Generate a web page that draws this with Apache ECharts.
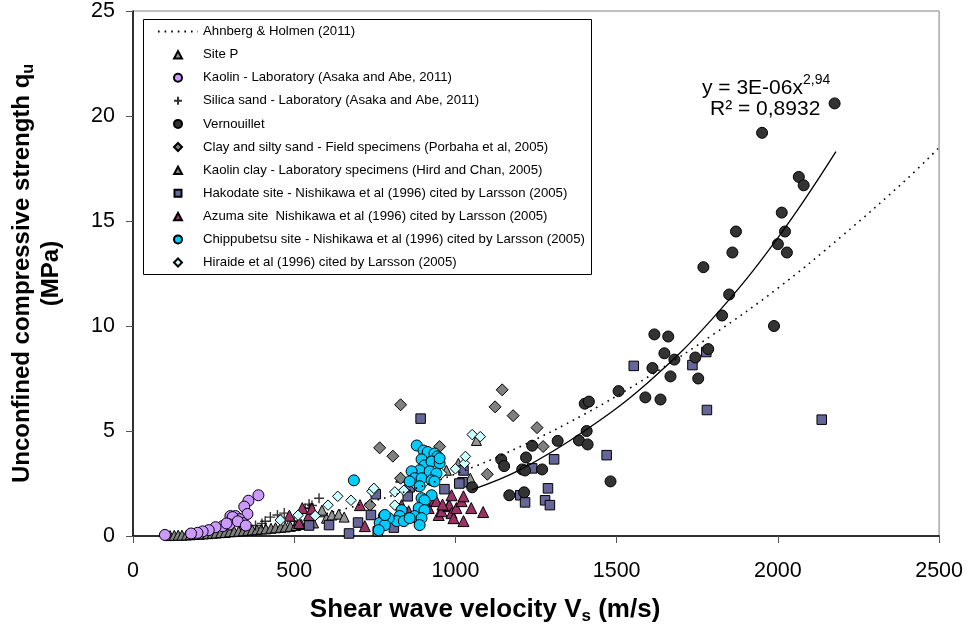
<!DOCTYPE html>
<html>
<head>
<meta charset="utf-8">
<script src="https://cdn.jsdelivr.net/npm/echarts@6/dist/echarts.min.js"></script>
<style>html,body{margin:0;padding:0;background:#fff;}#c{width:966px;height:630px;}</style>
</head>
<body>
<div id="c"></div>
<script>
// ---- data (Vs in m/s, qu in MPa) ----
const xTicks = [0, 500, 1000, 1500, 2000, 2500];
const yTicks = [0, 5, 10, 15, 20, 25];

const ahnbergLine = [[600,1.07],[800,1.9],[1000,2.95],[1200,4.25],[1400,5.8],[1600,7.6],[1800,9.6],[2000,11.8],[2200,14.3],[2400,17.0],[2500,18.5]];
const powerFit = [[1050,2.2],[1200,3.15],[1400,5.0],[1600,7.35],[1800,10.4],[2000,14.2],[2180,18.3]];

const siteP = [[586,1.15],[600,0.85],[617,1.0],[638,1.04],[655,0.9],[586,1.23],[972,3.13],[1009,3.46],[1046,2.75],[1065,4.55],[830,2.8]];
const kaolinLab = [[99,0.05],[389,1.94],[358,1.68],[345,1.4],[355,1.05],[302,0.95],[318,0.95],[330,0.8],[309,0.9],[299,0.55],[278,0.47],[256,0.42],[235,0.28],[216,0.22],[340,0.62],[325,0.7],[290,0.6],[200,0.15],[180,0.12],[350,0.5]];
const silicaSand = [[426,0.9],[448,1.0],[469,1.09],[534,1.3],[546,1.52],[549,1.33],[577,1.8],[555,1.45],[480,0.8],[500,0.7],[400,0.6],[380,0.5],[410,0.7]];
const vernouillet = [[2176,20.6],[1951,19.2],[2065,17.1],[2080,16.7],[2012,15.4],[2022,14.5],[2000,13.9],[2028,13.5],[1870,14.5],[1859,13.5],[1769,12.8],[1849,11.5],[1827,10.5],[1988,10.0],[1784,8.9],[1744,8.5],[1753,7.5],[1617,9.6],[1660,9.5],[1648,8.7],[1679,8.4],[1611,8.0],[1667,7.6],[1506,6.9],[1589,6.6],[1636,6.5],[1401,6.3],[1414,6.4],[1407,5.0],[1383,4.55],[1410,4.36],[1317,4.53],[1238,4.3],[1142,3.65],[1151,3.33],[1219,3.74],[1207,3.17],[1216,3.12],[1269,3.17],[1052,2.32],[1167,1.94],[1213,2.08],[1481,2.6]];
const claySiltySand = [[830,6.25],[1145,6.96],[1123,6.15],[1179,5.73],[1253,5.16],[1272,4.26],[1099,2.94],[951,4.26],[806,3.8],[765,4.2],[735,1.47],[830,2.75]];
const kaolinClay = [[115,0.02],[128,0.03],[140,0.04],[152,0.04],[166,0.05],[178,0.06],[190,0.07],[205,0.08],[218,0.1],[232,0.11],[246,0.13],[258,0.14],[272,0.16],[286,0.17],[300,0.2],[314,0.21],[328,0.23],[342,0.25],[356,0.27],[370,0.29],[384,0.3],[398,0.33],[412,0.34],[428,0.37],[442,0.39],[458,0.41],[472,0.43],[488,0.46],[505,0.5],[522,0.55],[540,0.58],[560,0.62]];
const hakodate = [[2136,5.54],[1778,8.76],[1735,8.14],[1780,6.0],[1553,8.1],[892,5.59],[1306,3.65],[1469,3.85],[1238,3.22],[1287,2.27],[1201,1.94],[1216,1.6],[1278,1.7],[1293,1.47],[1025,3.12],[1022,2.56],[966,2.23],[852,1.89],[809,0.4],[753,1.99],[858,2.32],[738,1.0],[698,0.64],[608,0.52],[670,0.12],[759,0.22],[1012,2.5],[546,0.5]];
const azuma = [[485,0.97],[515,0.62],[525,1.33],[546,1.0],[555,1.3],[704,1.47],[719,0.47],[833,1.47],[855,1.18],[880,1.0],[917,1.33],[935,1.7],[941,1.66],[948,1.0],[957,1.18],[978,1.42],[981,1.47],[988,1.94],[988,1.09],[994,0.85],[1003,1.33],[1019,1.66],[1025,1.89],[1025,0.71],[1049,1.33],[1086,1.14],[900,1.5],[960,1.5],[870,0.9]];
const chippubetsu = [[685,2.65],[880,4.31],[901,4.07],[914,4.0],[935,3.93],[944,3.79],[895,3.65],[904,3.36],[926,3.55],[951,3.46],[889,3.13],[920,3.08],[941,2.98],[864,3.08],[873,2.75],[895,2.75],[926,2.65],[858,2.6],[889,2.37],[895,1.8],[926,1.94],[904,1.7],[886,1.33],[904,1.23],[873,0.95],[895,0.85],[889,0.52],[833,1.23],[827,0.95],[818,0.71],[793,0.85],[778,0.95],[765,0.62],[781,0.52],[762,0.28],[840,0.71],[858,0.85],[951,3.7],[935,2.6],[781,1.0]];
const hiraide = [[457,0.76],[512,0.99],[565,0.97],[605,1.47],[635,1.89],[676,1.7],[741,2.13],[747,2.27],[812,2.1],[812,1.47],[840,2.18],[880,2.37],[904,2.55],[957,2.98],[1000,3.2],[1028,3.46],[1031,3.79],[1052,4.83],[1077,4.73]];

const names = ['Ahnberg & Holmen (2011)','Site P','Kaolin - Laboratory (Asaka and Abe, 2011)','Silica sand - Laboratory (Asaka and Abe, 2011)','Vernouillet','Clay and silty sand - Field specimens (Porbaha et al, 2005)','Kaolin clay - Laboratory specimens (Hird and Chan, 2005)','Hakodate site - Nishikawa et al (1996) cited by Larsson (2005)','Azuma site  Nishikawa et al (1996) cited by Larsson (2005)','Chippubetsu site - Nishikawa et al (1996) cited by Larsson (2005)','Hiraide et al (1996) cited by Larsson (2005)'];

const FONT = 'Liberation Sans, Arial, sans-serif';
const crossPath = 'path://M5,0 L5,10 M0,5 L10,5';
// legend icons: invisible corner moves keep the 40x8 icon box so shapes are not stretched
const lgTri = 'path://M0,0M40,8M16,8L20,0.5L24,8Z';
const lgDia = 'path://M0,0M40,8M20,0L24,4L20,8L16,4Z';
const lgSq = 'path://M0,0M40,8M16.5,0.5L23.5,0.5L23.5,7.5L16.5,7.5Z';
const legendIcons = [null, lgTri, null, null, null, lgDia, lgTri, lgSq, lgTri, null, lgDia];

function sc(name, data, symbol, size, fill, extra) {
  return Object.assign({
    name: name, type: 'scatter', data: data, symbol: symbol, symbolSize: size,
    itemStyle: {color: fill, borderColor: '#000', borderWidth: 1, opacity: 1},
    emphasis: {disabled: true}, z: 2
  }, extra || {});
}

const chart = echarts.init(document.getElementById('c'), null, {renderer: 'canvas'});
chart.setOption({
  animation: false,
  backgroundColor: '#fff',
  textStyle: {fontFamily: FONT},
  grid: {left: 130, top: 10, right: 26, bottom: 92, show: true, borderColor: '#808080', borderWidth: 1, backgroundColor: 'transparent'},
  xAxis: {
    type: 'value', min: xTicks[0], max: xTicks[xTicks.length-1], interval: 500,
    axisLine: {show: true, onZero: false, lineStyle: {color: '#000', width: 1.5}},
    axisTick: {show: true, length: 7, lineStyle: {color: '#555'}},
    axisLabel: {fontSize: 21.5, color: '#000', margin: 24, fontFamily: FONT, formatter: function (v) { return String(v); }},
    splitLine: {show: false},
    name: '{b|Shear wave velocity V}{s|s}{b| (m/s)}',
    nameLocation: 'middle', nameGap: 59,
    nameTextStyle: {padding: [0, 102, 0, 0], rich: {
      b: {fontSize: 26, fontWeight: 'bold', color: '#000', fontFamily: FONT, lineHeight: 30},
      s: {fontSize: 17, fontWeight: 'bold', color: '#000', fontFamily: FONT, verticalAlign: 'bottom', lineHeight: 22, padding: [9,0,0,0]}
    }}
  },
  yAxis: {
    type: 'value', min: yTicks[0], max: yTicks[yTicks.length-1], interval: 5,
    axisLine: {show: true, onZero: false, lineStyle: {color: '#000', width: 1.5}},
    axisTick: {show: true, length: 7, lineStyle: {color: '#555'}},
    axisLabel: {fontSize: 21.5, color: '#000', margin: 18, fontFamily: FONT},
    splitLine: {show: false},
    name: '{b|Unconfined compressive strength q}{s|u}\n{b|(MPa)}',
    nameLocation: 'middle', nameRotate: 90, nameGap: 67,
    nameTextStyle: {lineHeight: 29, rich: {
      b: {fontSize: 24, fontWeight: 'bold', color: '#000', fontFamily: FONT, lineHeight: 29},
      s: {fontSize: 16, fontWeight: 'bold', color: '#000', fontFamily: FONT, verticalAlign: 'bottom', lineHeight: 21, padding: [8,0,0,0]}
    }}
  },
  legend: {
    orient: 'vertical', left: 157, top: 24, padding: 0,
    itemWidth: 40, itemHeight: 8, itemGap: 8.1,
    textStyle: {fontSize: 13.2, color: '#000', fontFamily: FONT, lineHeight: 15},
    data: names.map(function (n, i) { return legendIcons[i] ? {name: n, icon: legendIcons[i]} : {name: n}; }),
    selectedMode: false, z: 6
  },
  graphic: [
    {type: 'rect', z: 5, shape: {x: 143.5, y: 19.5, width: 448, height: 255}, style: {fill: '#fff', stroke: '#000', lineWidth: 1}},
    {type: 'text', z: 6, left: 702, top: 73, style: {
      text: '{m|y = 3E-06x}{p|2,94}', rich: {
        m: {fontSize: 21, fill: '#000', fontFamily: FONT, verticalAlign: 'bottom', lineHeight: 26},
        p: {fontSize: 14, fill: '#000', fontFamily: FONT, verticalAlign: 'top', lineHeight: 26, padding: [0,0,10,0]}
      }}},
    {type: 'text', z: 6, left: 710, top: 99, style: {text: 'R² = 0,8932', fontSize: 21, fill: '#000', fontFamily: FONT}}
  ],
  series: [
    {name: names[0], type: 'line', data: ahnbergLine, smooth: 0.4, symbol: 'none', showSymbol: false,
     lineStyle: {color: '#000', width: 1.6, type: [1.6, 5]},
     itemStyle: {color: 'rgba(0,0,0,0)', borderColor: 'rgba(0,0,0,0)', borderWidth: 0}, z: 3, emphasis: {disabled: true}},
    {name: 'Power fit (Vernouillet)', type: 'line', data: powerFit, smooth: 0.4, symbol: 'none', showSymbol: false,
     lineStyle: {color: '#000', width: 1.3}, z: 3, emphasis: {disabled: true}},
    sc(names[6], kaolinClay, 'triangle', 10, '#808080'),
    sc(names[1], siteP, 'triangle', 10, '#969696'),
    sc(names[2], kaolinLab, 'circle', 11, '#CC99FF'),
    sc(names[3], silicaSand, crossPath, 10, '#000', {itemStyle: {color: 'none', borderColor: '#000', borderWidth: 1.4}}),
    sc(names[5], claySiltySand, 'diamond', 12, '#808080'),
    sc(names[7], hakodate, 'rect', 9.5, '#666699'),
    sc(names[8], azuma, 'triangle', 11, '#993366'),
    sc(names[10], hiraide, 'diamond', 10.5, '#CCFFFF'),
    sc(names[9], chippubetsu, 'circle', 11, '#00CCFF'),
    sc(names[4], vernouillet, 'circle', 11, '#333333')
  ]
});
</script>
</body>
</html>
